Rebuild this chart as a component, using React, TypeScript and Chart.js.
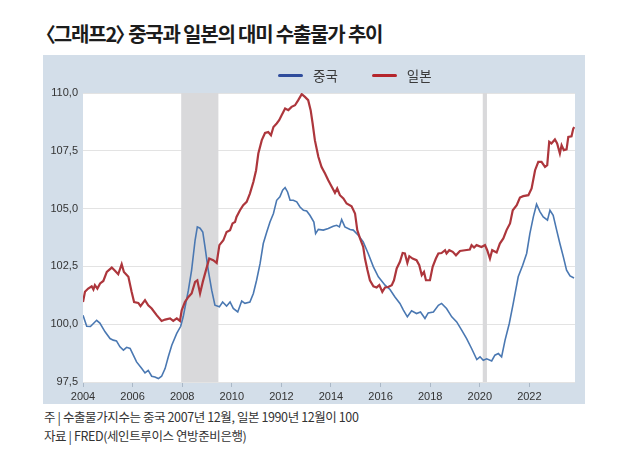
import React, { useEffect, useRef } from "react";
import { Chart, registerables } from "chart.js";

Chart.register(...registerables);

// ---- Data ----
const chinaYears = [
  2004.0, 2004.15, 2004.3, 2004.55, 2004.68, 2004.89, 2005.09, 2005.22, 2005.35, 2005.49,
  2005.63, 2005.76, 2005.9, 2006.03, 2006.16, 2006.37, 2006.5, 2006.63, 2006.77, 2006.9,
  2007.04, 2007.17, 2007.31, 2007.44, 2007.58, 2007.78, 2007.94, 2008.04, 2008.25, 2008.38,
  2008.52, 2008.61, 2008.72, 2008.83, 2008.92, 2009.05, 2009.19, 2009.32, 2009.5, 2009.63,
  2009.79, 2009.93, 2010.06, 2010.24, 2010.4, 2010.53, 2010.73, 2010.87, 2011.0, 2011.14,
  2011.27, 2011.41, 2011.54, 2011.68, 2011.81, 2011.94, 2012.05, 2012.15, 2012.25, 2012.35,
  2012.48, 2012.62, 2012.75, 2012.89, 2013.02, 2013.15, 2013.31, 2013.38, 2013.49, 2013.69,
  2013.89, 2014.09, 2014.23, 2014.34, 2014.43, 2014.56, 2014.77, 2014.9, 2015.1, 2015.3,
  2015.5, 2015.71, 2015.91, 2016.18, 2016.38, 2016.58, 2016.78, 2016.92, 2017.08, 2017.25,
  2017.45, 2017.61, 2017.79, 2017.92, 2018.13, 2018.33, 2018.46, 2018.66, 2018.87, 2019.07,
  2019.27, 2019.47, 2019.67, 2019.88, 2020.01, 2020.14, 2020.28, 2020.48, 2020.61, 2020.75,
  2020.88, 2021.02, 2021.19, 2021.35, 2021.55, 2021.73, 2021.89, 2022.02, 2022.16, 2022.29,
  2022.43, 2022.56, 2022.73, 2022.83, 2022.96, 2023.1, 2023.23, 2023.37, 2023.5, 2023.64,
  2023.8,
];
const chinaValues = [
  100.39, 99.91, 99.9, 100.17, 100.05, 99.67, 99.38, 99.31, 99.28, 99.02,
  98.88, 99.0, 98.95, 98.66, 98.37, 98.08, 97.89, 98.0, 97.75, 97.72,
  97.65, 97.75, 98.08, 98.59, 99.09, 99.6, 99.91, 100.32, 101.47, 102.34,
  103.63, 104.21, 104.15, 103.99, 103.34, 102.34, 101.47, 100.82, 100.75, 100.96,
  100.78, 100.96, 100.68, 100.53, 101.0, 100.9, 100.96, 101.33, 101.9, 102.62,
  103.49, 103.99, 104.42, 104.79, 105.36, 105.51, 105.8, 105.91, 105.72, 105.36,
  105.36, 105.29, 105.07, 104.93, 104.9, 104.71, 104.42, 103.92, 104.1, 104.07,
  104.14, 104.24, 104.28, 104.21, 104.53, 104.21, 104.1, 104.07, 103.85, 103.56,
  103.06, 102.48, 102.05, 101.69, 101.5, 101.18, 100.9, 100.61, 100.32, 100.58,
  100.46, 100.53, 100.25, 100.49, 100.53, 100.82, 100.9, 100.68, 100.32, 100.1,
  99.74, 99.38, 98.95, 98.47, 98.59, 98.44, 98.5, 98.41, 98.66, 98.73,
  98.59, 99.31, 100.03, 100.9, 102.05, 102.55, 103.06, 103.92, 104.64, 105.19,
  104.86, 104.64, 104.5, 104.93, 104.71, 104.07, 103.49, 102.91, 102.34, 102.09,
  102.0,
];

const japanYears = [
  2004.0, 2004.08, 2004.21, 2004.35, 2004.42, 2004.48, 2004.58, 2004.69, 2004.82, 2004.96,
  2005.16, 2005.29, 2005.42, 2005.56, 2005.65, 2005.83, 2005.96, 2006.06, 2006.23, 2006.32,
  2006.5, 2006.63, 2006.77, 2006.97, 2007.17, 2007.31, 2007.51, 2007.64, 2007.78, 2007.91,
  2007.98, 2008.11, 2008.25, 2008.38, 2008.52, 2008.61, 2008.72, 2008.83, 2008.96, 2009.09,
  2009.25, 2009.39, 2009.5, 2009.66, 2009.79, 2009.93, 2010.03, 2010.13, 2010.19, 2010.33,
  2010.46, 2010.6, 2010.73, 2010.87, 2010.98, 2011.07, 2011.21, 2011.34, 2011.47, 2011.58,
  2011.68, 2011.81, 2011.91, 2012.01, 2012.15, 2012.28, 2012.41, 2012.55, 2012.68, 2012.82,
  2012.95, 2013.08, 2013.18, 2013.26, 2013.35, 2013.49, 2013.62, 2013.76, 2013.89, 2014.03,
  2014.16, 2014.25, 2014.36, 2014.5, 2014.63, 2014.83, 2014.97, 2015.06, 2015.17, 2015.3,
  2015.37, 2015.47, 2015.57, 2015.71, 2015.84, 2015.95, 2016.07, 2016.18, 2016.31, 2016.45,
  2016.54, 2016.65, 2016.78, 2016.89, 2016.98, 2017.08, 2017.16, 2017.29, 2017.45, 2017.56,
  2017.66, 2017.75, 2017.83, 2017.99, 2018.1, 2018.23, 2018.33, 2018.46, 2018.6, 2018.66,
  2018.77, 2018.91, 2019.04, 2019.2, 2019.4, 2019.6, 2019.67, 2019.77, 2019.87, 2020.07,
  2020.21, 2020.3, 2020.41, 2020.5, 2020.68, 2020.81, 2020.95, 2021.08, 2021.22, 2021.33,
  2021.49, 2021.62, 2021.75, 2021.96, 2022.09, 2022.23, 2022.36, 2022.49, 2022.63, 2022.72,
  2022.8, 2022.89, 2023.03, 2023.12, 2023.23, 2023.3, 2023.39, 2023.5, 2023.57, 2023.7,
  2023.77, 2023.81,
];
const japanValues = [
  100.96, 101.4, 101.54, 101.64, 101.5, 101.69, 101.54, 101.76, 101.87, 102.26,
  102.45, 102.31, 102.16, 102.6, 102.26, 102.05, 101.4, 100.96, 100.92, 100.78,
  101.04, 100.82, 100.68, 100.39, 100.14, 100.2, 100.25, 100.14, 100.25, 100.14,
  100.6, 100.96, 101.18, 101.33, 101.83, 101.9, 101.33, 101.83, 102.34, 102.84,
  102.77, 102.65, 103.42, 103.63, 103.99, 104.07, 104.36, 104.42, 104.64, 104.93,
  105.15, 105.29, 105.65, 106.15, 106.66, 107.38, 107.96, 108.27, 108.31, 108.17,
  108.53, 108.68, 108.82, 109.04, 109.33, 109.26, 109.4, 109.47, 109.69, 109.95,
  109.83, 109.69, 109.26, 108.68, 107.96, 107.24, 106.8, 106.52, 106.23, 105.94,
  105.68, 105.87, 105.58, 105.44, 105.22, 105.1, 104.79, 104.07, 103.71, 103.34,
  102.84, 102.34, 101.9, 101.64, 101.59, 101.69, 101.4, 101.59, 101.61, 101.69,
  101.9, 102.41, 102.7, 103.08, 103.06, 102.65, 102.94, 102.84, 102.77, 102.55,
  102.12, 102.26, 101.9, 101.9, 102.48, 102.84, 103.06, 103.08, 103.2, 103.06,
  103.2, 103.13, 102.98, 103.17, 103.2, 103.23, 103.42, 103.32, 103.42, 103.34,
  103.42, 103.2, 102.84, 103.2, 103.1, 103.49, 103.71, 104.07, 104.36, 104.93,
  105.15, 105.48, 105.54, 105.58, 105.87, 106.66, 107.02, 107.02, 106.8, 106.88,
  107.89, 107.82, 107.99, 107.82, 107.38, 107.74, 107.53, 107.56, 108.1, 108.13,
  108.46, 108.53,
];

const xTickYears = [2004, 2006, 2008, 2010, 2012, 2014, 2016, 2018, 2020, 2022];
const recessionStarts = [2007.96, 2020.12];
const recessionEnds = [2009.46, 2020.29];

const seriesLabels = ["중국", "일본"];
const titleText = "〈그래프2〉 중국과 일본의 대미 수출물가 추이";
const noteText = "주 | 수출물가지수는 중국 2007년 12월, 일본 1990년 12월이 100";
const sourceText = "자료 | FRED(세인트루이스 연방준비은행)";

const CHINA_COLOR = "#4a78b2";
const JAPAN_COLOR = "#ad363c";
const CHINA_LEGEND = "#2f4c9c";
const JAPAN_LEGEND = "#b5252c";
const PANEL_BG = "#d3dee9";
const TICK_FONT = "'Liberation Sans', Arial, sans-serif";
const KR_FONT = "'Noto Sans CJK KR', 'Noto Sans', sans-serif";

const plotBgPlugin = {
  id: "plotBg",
  beforeDraw(chart: any) {
    const { ctx, chartArea } = chart;
    ctx.save();
    ctx.fillStyle = "#ffffff";
    ctx.fillRect(chartArea.left, chartArea.top, chartArea.right - chartArea.left, chartArea.bottom - chartArea.top);
    ctx.restore();
  },
};

const recessionPlugin = {
  id: "recessions",
  beforeDatasetsDraw(chart: any) {
    const { ctx, chartArea, scales } = chart;
    ctx.save();
    ctx.fillStyle = "#d9d9db";
    for (let i = 0; i < recessionStarts.length; i++) {
      const x0 = scales.x.getPixelForValue(recessionStarts[i]);
      const x1 = scales.x.getPixelForValue(recessionEnds[i]);
      ctx.fillRect(x0, chartArea.top, x1 - x0, chartArea.bottom - chartArea.top);
    }
    ctx.restore();
  },
};

function ChartPanel() {
  const ref = useRef<HTMLCanvasElement | null>(null);
  useEffect(() => {
    if (!ref.current) return;
    const chart = new Chart(ref.current, {
      type: "line",
      data: {
        datasets: [
          {
            label: seriesLabels[0],
            data: chinaYears.map((x, i) => ({ x, y: chinaValues[i] })),
            borderColor: CHINA_COLOR,
            borderWidth: 1.6,
            pointRadius: 0,
            tension: 0,
            order: 1,
          },
          {
            label: seriesLabels[1],
            data: japanYears.map((x, i) => ({ x, y: japanValues[i] })),
            borderColor: JAPAN_COLOR,
            borderWidth: 2.2,
            pointRadius: 0,
            tension: 0,
            order: 0,
          },
        ],
      },
      options: {
        animation: false,
        responsive: true,
        maintainAspectRatio: false,
        layout: { padding: { top: 38, right: 10, left: 0, bottom: 0 } },
        plugins: {
          legend: { display: false },
          tooltip: { enabled: false },
        },
        scales: {
          x: {
            type: "linear",
            min: 2004,
            max: 2023.84,
            afterBuildTicks: (scale: any) => {
              scale.ticks = xTickYears.map((v) => ({ value: v }));
            },
            afterFit: (scale: any) => {
              scale.height = 22;
            },
            grid: {
              drawOnChartArea: false,
              drawTicks: true,
              tickLength: 5,
              color: "#aab8c7",
            },
            border: { display: false },
            ticks: {
              padding: 3,
              color: "#333333",
              font: { family: TICK_FONT, size: 11 },
              callback: (v: any) => String(v),
              maxRotation: 0,
              autoSkip: false,
            },
          },
          y: {
            type: "linear",
            min: 97.5,
            max: 110,
            afterFit: (scale: any) => {
              scale.width = 40;
            },
            grid: {
              drawTicks: false,
              color: "#e3e3e3",
              lineWidth: 1,
            },
            border: { display: false },
            ticks: {
              stepSize: 2.5,
              padding: 5,
              color: "#333333",
              font: { family: TICK_FONT, size: 11 },
              callback: (v: any) => Number(v).toFixed(1).replace(".", ","),
            },
          },
        },
      },
      plugins: [plotBgPlugin, recessionPlugin],
    });
    return () => chart.destroy();
  }, []);
  return <canvas ref={ref} />;
}

function LegendItem({ color, label }: { color: string; label: string }) {
  return (
    <div style={{ display: "flex", alignItems: "center" }}>
      <div style={{ width: 25, height: 3, background: color, borderRadius: 1.5, marginRight: 10 }} />
      <span style={{ fontFamily: KR_FONT, fontSize: 13.5, color: "#3a3a3a", lineHeight: "16px" }}>{label}</span>
    </div>
  );
}

export default function App() {
  return (
    <div
      style={{
        position: "fixed",
        left: 0,
        top: 0,
        width: 630,
        height: 451,
        background: "#ffffff",
        overflow: "hidden",
      }}
    >
      <div
        style={{
          position: "absolute",
          left: 45,
          top: 22,
          fontFamily: KR_FONT,
          fontWeight: 700,
          fontSize: 20,
          lineHeight: "24px",
          letterSpacing: "-1.2px",
          fontFeatureSettings: '"palt"',
          color: "#1c1c1c",
          whiteSpace: "nowrap",
        }}
      >
        {titleText}
      </div>
      <div
        style={{
          position: "absolute",
          left: 43,
          top: 55,
          width: 542,
          height: 349,
          background: PANEL_BG,
        }}
      >
        <ChartPanel />
      </div>
      <div
        style={{
          position: "absolute",
          left: 278,
          top: 67,
          display: "flex",
          gap: 34,
        }}
      >
        <LegendItem color={CHINA_LEGEND} label={seriesLabels[0]} />
        <LegendItem color={JAPAN_LEGEND} label={seriesLabels[1]} />
      </div>
      <div
        style={{
          position: "absolute",
          left: 44,
          top: 409,
          fontFamily: KR_FONT,
          fontSize: 12.5,
          lineHeight: "16px",
          letterSpacing: "-0.4px",
          color: "#333333",
          whiteSpace: "nowrap",
        }}
      >
        <div>{noteText}</div>
        <div style={{ marginTop: 3 }}>{sourceText}</div>
      </div>
    </div>
  );
}
